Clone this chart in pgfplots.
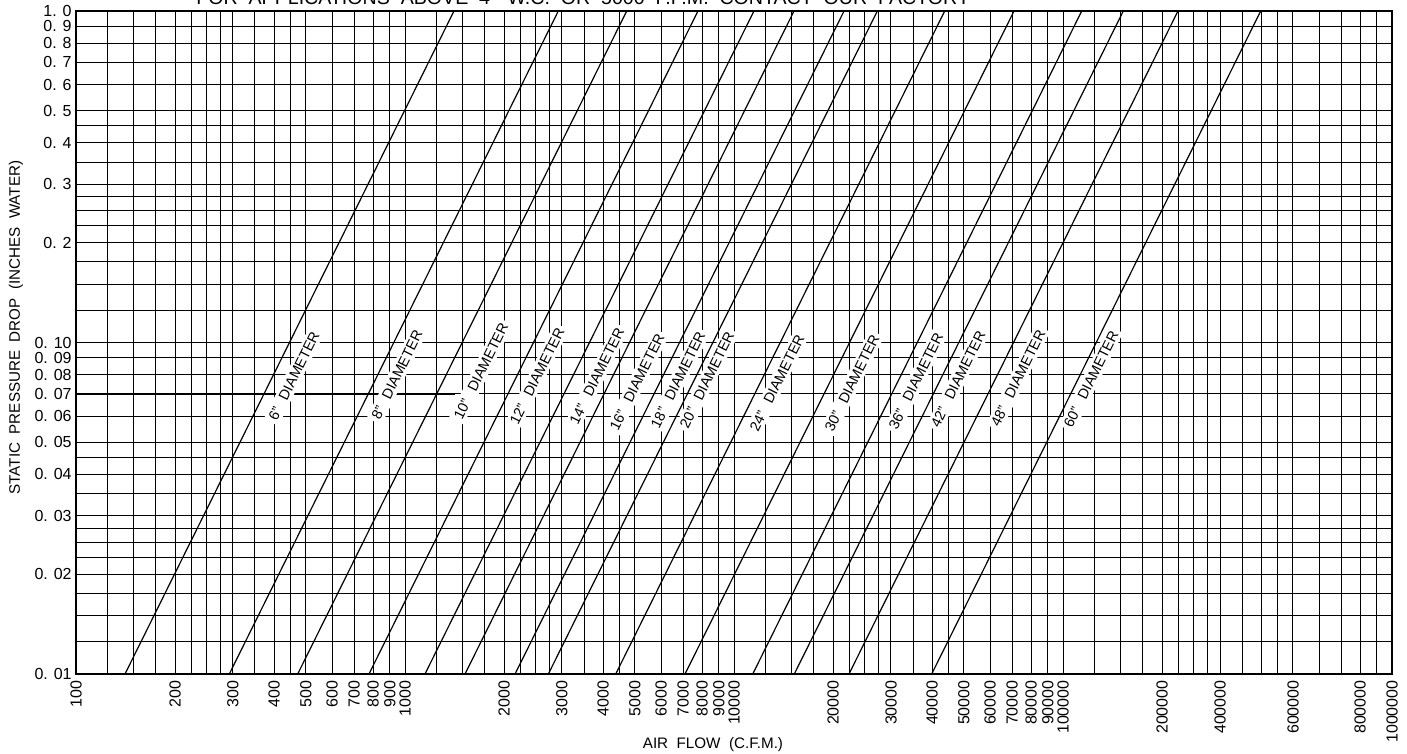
\documentclass[border=0pt]{standalone}
\usepackage{fontspec}
\setmainfont{Liberation Sans}
\usepackage{pgfplots}
\pgfplotsset{compat=1.18}
\tikzset{diam/.style={rotate=63.6, fill=white, inner sep=1.5pt, font=\fontsize{7.2}{8}\selectfont}}
\begin{document}
\begin{tikzpicture}
\begin{axis}[
  at={(0pt,0pt)}, anchor=south west,
  width=658pt, height=331.5pt, scale only axis,
  xmode=log, ymode=log,
  xmin=100, xmax=1000000, ymin=0.01, ymax=1,
  xtick={100,200,300,400,500,600,700,800,900,1000,2000,3000,4000,5000,6000,7000,8000,9000,10000,20000,30000,40000,50000,60000,70000,80000,90000,100000,200000,300000,500000,800000,1000000},
  xticklabels={100,200,300,400,500,600,700,800,900,1000,2000,3000,4000,5000,6000,7000,8000,9000,10000,20000,30000,40000,50000,60000,70000,80000,90000,100000,200000,400000,600000,800000,1000000},
  ytick={0.01,0.02,0.03,0.04,0.05,0.06,0.07,0.08,0.09,0.1,0.2,0.3,0.4,0.5,0.6,0.7,0.8,0.9,1},
  yticklabels={0. 01,0. 02,0. 03,0. 04,0. 05,0. 06,0. 07,0. 08,0. 09,0. 10,0. 2,0. 3,0. 4,0. 5,0. 6,0. 7,0. 8,0. 9,1. 0},
  minor xtick={100,125,150,175,200,225,250,275,300,350,400,450,500,600,700,800,900,
    1000,1250,1500,1750,2000,2250,2500,2750,3000,3500,4000,4500,5000,6000,7000,8000,9000,
    10000,12500,15000,17500,20000,22500,25000,27500,30000,35000,40000,45000,50000,60000,70000,80000,90000,
    100000,125000,150000,175000,200000,225000,250000,275000,300000,350000,400000,450000,500000,600000,700000,800000,900000,1000000},
  minor ytick={0.01,0.0125,0.015,0.0175,0.02,0.0225,0.025,0.0275,0.03,0.035,0.04,0.045,0.05,0.06,0.07,0.08,0.09,
    0.1,0.125,0.15,0.175,0.2,0.225,0.25,0.275,0.3,0.35,0.4,0.45,0.5,0.6,0.7,0.8,0.9,1},
  grid=minor,
  minor grid style={line width=0.5pt, black},
  major tick length=0pt, minor tick length=0pt,
  axis line style={line width=0.9pt, black},
  xticklabel style={rotate=90, anchor=east, inner sep=0pt, font=\fontsize{8}{9}\selectfont},
  yticklabel style={anchor=east, inner sep=0pt, font=\fontsize{8}{9}\selectfont},
  xticklabel shift=3pt, yticklabel shift=2pt,
  xlabel={AIR\ \ FLOW\ \ (C.F.M.)},
  ylabel={STATIC\ \ PRESSURE\ \ DROP\ \ (INCHES\ \ WATER)},
  xlabel style={at={(axis description cs:0.484,-0.1071)}, anchor=center, font=\fontsize{7.6}{9}\selectfont},
  ylabel style={at={(axis description cs:-0.0456,0.5226)}, anchor=center, font=\fontsize{7.6}{9}\selectfont},
]
% reading line at 0.07
\addplot[line width=1.2pt, black, forget plot] coordinates {(100,0.07) (1419,0.07)};
% labels (white boxes cut the grid)
\node[diam] at (axis cs:459.8,0.0792) {6”\hspace{0.7em}DIAMETER};
\node[diam] at (axis cs:945.6,0.0798) {8”\hspace{0.7em}DIAMETER};
\node[diam] at (axis cs:1702,0.0820) {10”\hspace{0.7em}DIAMETER};
\node[diam] at (axis cs:2519,0.0792) {12”\hspace{0.7em}DIAMETER};
\node[diam] at (axis cs:3832,0.0792) {14”\hspace{0.7em}DIAMETER};
\node[diam] at (axis cs:5073,0.0760) {16”\hspace{0.7em}DIAMETER};
\node[diam] at (axis cs:6757,0.0771) {18”\hspace{0.7em}DIAMETER};
\node[diam] at (axis cs:8277,0.0771) {20”\hspace{0.7em}DIAMETER};
\node[diam] at (axis cs:13510,0.0755) {24”\hspace{0.7em}DIAMETER};
\node[diam] at (axis cs:22840,0.0755) {30”\hspace{0.7em}DIAMETER};
\node[diam] at (axis cs:35740,0.0765) {36”\hspace{0.7em}DIAMETER};
\node[diam] at (axis cs:47960,0.0776) {42”\hspace{0.7em}DIAMETER};
\node[diam] at (axis cs:72990,0.0781) {48”\hspace{0.7em}DIAMETER};
\node[diam] at (axis cs:121700,0.0776) {60”\hspace{0.7em}DIAMETER};
% diameter lines (pressure drop ~ flow^2)
\addplot[black, line width=0.6pt] coordinates {(140.9,0.01) (1409,1)};
\addplot[black, line width=0.6pt] coordinates {(292.4,0.01) (2924,1)};
\addplot[black, line width=0.6pt] coordinates {(471.9,0.01) (4719,1)};
\addplot[black, line width=0.6pt] coordinates {(777.2,0.01) (7772,1)};
\addplot[black, line width=0.6pt] coordinates {(1150,0.01) (11500,1)};
\addplot[black, line width=0.6pt] coordinates {(1522,0.01) (15220,1)};
\addplot[black, line width=0.6pt] coordinates {(2160,0.01) (21600,1)};
\addplot[black, line width=0.6pt] coordinates {(2727,0.01) (27270,1)};
\addplot[black, line width=0.6pt] coordinates {(4370,0.01) (43700,1)};
\addplot[black, line width=0.6pt] coordinates {(7098,0.01) (70980,1)};
\addplot[black, line width=0.6pt] coordinates {(11400,0.01) (114000,1)};
\addplot[black, line width=0.6pt] coordinates {(15250,0.01) (152500,1)};
\addplot[black, line width=0.6pt] coordinates {(22360,0.01) (223600,1)};
\addplot[black, line width=0.6pt] coordinates {(39900,0.01) (399000,1)};
\end{axis}
\node[anchor=base west, inner sep=0pt, font=\fontsize{9.8}{11}\selectfont] at (60pt,334.5pt)
  {FOR\ \ APPLICATIONS\ \ ABOVE\ \ 4”\ \ W.C.\ \ OR\ \ 5000\ \ F.P.M.\ \ CONTACT\ \ OUR\ \ FACTORY};
\pgfresetboundingbox
\useasboundingbox (-38pt,-40pt) rectangle (665.5pt,337pt);
\end{tikzpicture}
\end{document}
